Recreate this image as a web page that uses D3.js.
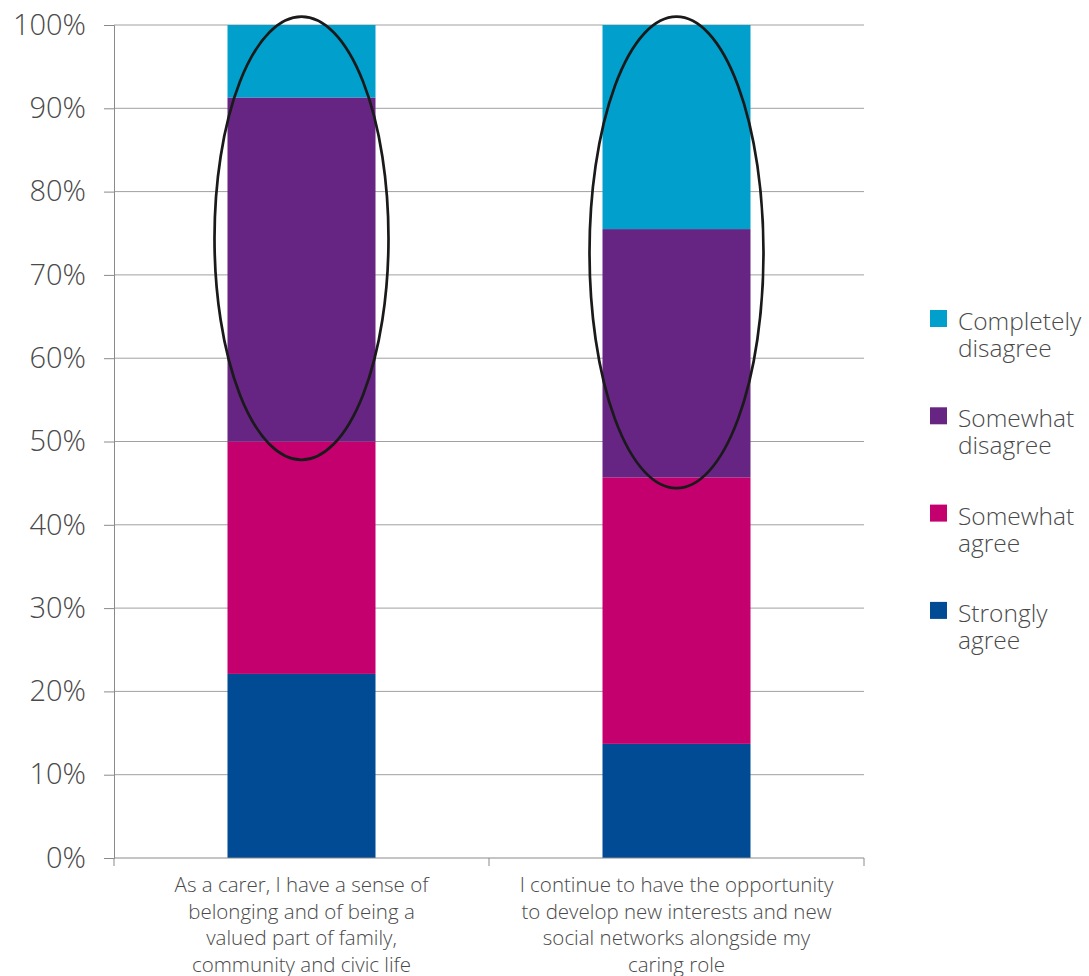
<!DOCTYPE html>
<html><head><meta charset="utf-8">
<script src="https://cdn.jsdelivr.net/npm/d3@7"></script>
<style>body{margin:0;background:#fff}svg{display:block}</style>
</head><body><svg id="c" width="1089" height="976"></svg>
<script>
const categories = [
  ["As a carer, I have a sense of","belonging and of being a","valued part of family,","community and civic life"],
  ["I continue to have the opportunity","to develop new interests and new","social networks alongside my","caring role"]
];
const seriesNames = ["Strongly agree","Somewhat agree","Somewhat disagree","Completely disagree"];
const legendLabels = [["Completely","disagree"],["Somewhat","disagree"],["Somewhat","agree"],["Strongly","agree"]];
const stronglyAgree = [22.1, 13.7];
const somewhatAgree = [27.9, 32.0];
const somewhatDisagree = [41.3, 29.8];
const completelyDisagree = [8.7, 24.5];
const colors = ["#004b93","#c4006f","#662483","#009fcc"];
const yTicks = [0,10,20,30,40,50,60,70,80,90,100];
// highlighted range (data units) circled on each bar
const highlightLow = [47.8, 44.4];
const highlightHigh = [101, 101];

const svg = d3.select("#c");
const m = {l:114, r:864, t:25, b:858};
const x = d3.scaleBand().domain([0,1]).range([m.l,m.r]).paddingInner(0).paddingOuter(0);
const y = d3.scaleLinear().domain([0,100]).range([m.b,m.t]);
const barW = 148;
const textCol = "#4a4a4a";
const font = "'Open Sans', sans-serif";

// gridlines
svg.append("g").selectAll("line").data(yTicks.slice(1)).join("line")
  .attr("x1",m.l).attr("x2",m.r).attr("y1",d=>y(d)).attr("y2",d=>y(d))
  .attr("stroke","#a0a0a0").attr("stroke-width",1);

// y axis
const ya = svg.append("g").attr("transform",`translate(${m.l},0)`)
  .call(d3.axisLeft(y).tickValues(yTicks).tickFormat(d=>d+"%").tickSize(10).tickPadding(18));
ya.select(".domain").attr("stroke","#8a8a8a");
ya.selectAll(".tick line").attr("stroke","#8a8a8a");
ya.selectAll("text").attr("font-family",font).attr("font-size",29).attr("fill",textCol).attr("font-weight",300);

// bars
const data = categories.map((c,i)=>({i, v:[stronglyAgree[i],somewhatAgree[i],somewhatDisagree[i],completelyDisagree[i]]}));
const stack = d3.stack().keys([0,1,2,3]).value((d,k)=>d.v[k]);
const stacked = stack(data);
svg.append("g").selectAll("g").data(stacked).join("g").attr("fill",(d,k)=>colors[k])
  .selectAll("rect").data(d=>d).join("rect")
  .attr("x",d=>x(d.data.i)+x.bandwidth()/2-barW/2).attr("width",barW)
  .attr("y",d=>y(d[1])).attr("height",d=>y(d[0])-y(d[1]));

// x axis
const xa = svg.append("g").attr("transform",`translate(0,${m.b})`);
xa.append("line").attr("x1",m.l).attr("x2",m.r).attr("stroke","#8a8a8a");
xa.selectAll(".t").data([0,1,2]).join("line").attr("class","t")
  .attr("x1",d=>m.l+d*x.bandwidth()).attr("x2",d=>m.l+d*x.bandwidth()).attr("y1",0).attr("y2",8).attr("stroke","#8a8a8a");
categories.forEach((lines,i)=>{
  const t = xa.append("text").attr("x",x(i)+x.bandwidth()/2).attr("text-anchor","middle")
    .attr("font-family",font).attr("font-size",20.5).attr("fill",textCol).attr("font-weight",300);
  lines.forEach((ln,j)=>t.append("tspan").attr("x",x(i)+x.bandwidth()/2).attr("y",34+j*26.7).text(ln));
});

// ellipses
svg.append("g").selectAll("ellipse").data([0,1]).join("ellipse")
  .attr("cx",d=>x(d)+x.bandwidth()/2)
  .attr("cy",d=>(y(highlightLow[d])+y(highlightHigh[d]))/2)
  .attr("ry",d=>(y(highlightLow[d])-y(highlightHigh[d]))/2)
  .attr("rx",87)
  .attr("fill","none").attr("stroke","#1a1a1a").attr("stroke-width",2.7);

// legend
const lg = svg.append("g").attr("transform","translate(930,0)");
legendLabels.forEach((lab,k)=>{
  const top = 310 + k*97.3;
  lg.append("rect").attr("x",0).attr("y",top).attr("width",17).attr("height",17).attr("fill",colors[3-k]);
  const t = lg.append("text").attr("font-family",font).attr("font-size",24.5).attr("fill",textCol).attr("font-weight",300);
  lab.forEach((ln,j)=>t.append("tspan").attr("x",28).attr("y",top+20+j*27).text(ln));
});
</script></body></html>
